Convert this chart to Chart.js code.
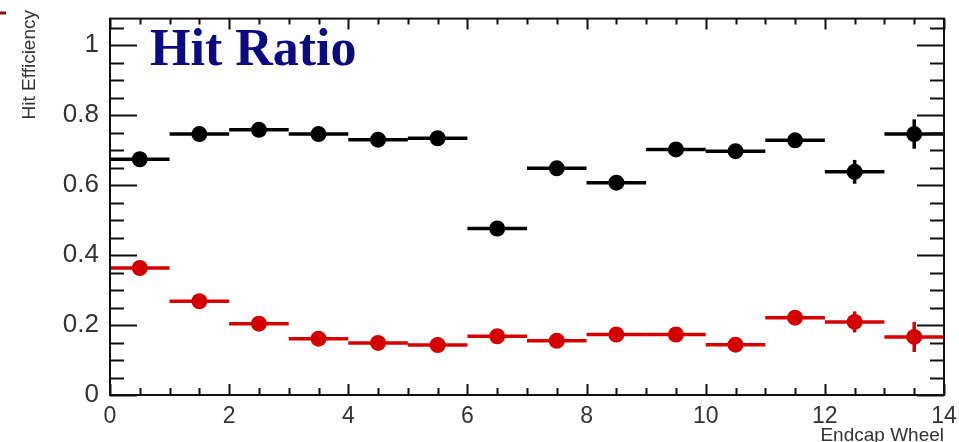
<!DOCTYPE html>
<html>
<head>
<meta charset="utf-8">
<script src="https://cdn.jsdelivr.net/npm/chart.js@4.4.1/dist/chart.umd.min.js"></script>
<style>
  html, body { margin: 0; padding: 0; background: #fff; }
  #wrap { width: 959px; height: 442px; position: relative; }
</style>
</head>
<body>
<div id="wrap"><canvas id="hitChart"></canvas></div>
<script>
// bin centres (endcap wheel) and the two efficiency series
var wheels = [0.5, 1.5, 2.5, 3.5, 4.5, 5.5, 6.5, 7.5, 8.5, 9.5, 10.5, 11.5, 12.5, 13.5];
var blackEff = [0.674, 0.746, 0.758, 0.746, 0.730, 0.734, 0.476, 0.648, 0.607, 0.702, 0.697, 0.728, 0.638, 0.746];
var blackErr = [0.010, 0.010, 0.010, 0.010, 0.010, 0.010, 0.010, 0.012, 0.012, 0.012, 0.012, 0.020, 0.034, 0.042];
var redEff = [0.363, 0.268, 0.204, 0.161, 0.149, 0.143, 0.168, 0.155, 0.173, 0.173, 0.144, 0.221, 0.209, 0.166];
var redErr = [0.008, 0.008, 0.008, 0.008, 0.008, 0.008, 0.008, 0.008, 0.008, 0.008, 0.008, 0.015, 0.030, 0.043];
var binHalfWidth = 0.5;
var xTickLabels = [0, 2, 4, 6, 8, 10, 12, 14];
var yTickLabels = [0, 0.2, 0.4, 0.6, 0.8, 1];

var sansFont = "'Liberation Sans', Arial, sans-serif";

function toPoints(vals) {
	var pts = [];
	for (var i in vals) {
		pts.push({ x: wheels[i], y: vals[i] });
	}
	return pts;
}

// ROOT style: error bars, inner ticks on all four sides, frame and titles
var rootStyle = {
	id: 'rootStyle',
	beforeDatasetsDraw: function (chart) {
		var ctx = chart.ctx;
		var xs = chart.scales.x;
		var ys = chart.scales.y;
		chart.data.datasets.forEach(function (ds) {
			ctx.save();
			ctx.strokeStyle = ds.backgroundColor;
			ctx.lineWidth = 3.5;
			for (var i = 0; i < ds.data.length; i++) {
				var p = ds.data[i];
				var py = ys.getPixelForValue(p.y);
				ctx.beginPath();
				ctx.moveTo(xs.getPixelForValue(p.x - binHalfWidth), py);
				ctx.lineTo(xs.getPixelForValue(p.x + binHalfWidth), py);
				ctx.stroke();
				var px = xs.getPixelForValue(p.x);
				ctx.beginPath();
				ctx.moveTo(px, ys.getPixelForValue(p.y - ds.errors[i]));
				ctx.lineTo(px, ys.getPixelForValue(p.y + ds.errors[i]));
				ctx.stroke();
			}
			ctx.restore();
		});
	},
	afterDraw: function (chart) {
		var ctx = chart.ctx;
		var a = chart.chartArea;
		var xs = chart.scales.x;
		var ys = chart.scales.y;
		ctx.save();
		ctx.strokeStyle = '#111';
		ctx.lineWidth = 2;
		ctx.strokeRect(a.left, a.top, a.right - a.left, a.bottom - a.top);

		// y ticks every 0.05, major every 0.2
		for (var k = 0; k * 0.05 <= ys.max + 1e-9; k++) {
			var y = Math.round(ys.getPixelForValue(k * 0.05)) + 0.5;
			var len = (k % 4 === 0) ? 27 : 14;
			ctx.beginPath();
			ctx.moveTo(a.left, y); ctx.lineTo(a.left + len, y);
			ctx.moveTo(a.right, y); ctx.lineTo(a.right - len, y);
			ctx.stroke();
		}
		// x ticks every 0.5, major every 2
		for (var j = 0; j * 0.5 <= xs.max + 1e-9; j++) {
			var x = Math.round(xs.getPixelForValue(j * 0.5)) + 0.5;
			var major = (j % 4 === 0);
			ctx.beginPath();
			ctx.moveTo(x, a.bottom); ctx.lineTo(x, a.bottom - (major ? 11 : 7));
			ctx.moveTo(x, a.top); ctx.lineTo(x, a.top + (major ? 11 : 6));
			ctx.stroke();
		}

		// big title
		ctx.fillStyle = '#0a0a82';
		ctx.font = "bold 52px 'Liberation Serif', 'Times New Roman', serif";
		ctx.textAlign = 'left';
		ctx.textBaseline = 'alphabetic';
		ctx.fillText('Hit Ratio', 150, 65);

		// axis titles
		ctx.fillStyle = '#333';
		ctx.font = '19px ' + sansFont;
		ctx.textAlign = 'right';
		ctx.fillText('Endcap Wheel', a.right, 441);

		ctx.translate(35, 10);
		ctx.rotate(-Math.PI / 2);
		ctx.font = '19px ' + sansFont;
		ctx.textAlign = 'right';
		ctx.fillText('Hit Efficiency', 0, 0);
		ctx.restore();

		// small dark-red mark at the top left corner
		ctx.save();
		ctx.strokeStyle = '#8b1010';
		ctx.lineWidth = 3;
		ctx.beginPath();
		ctx.moveTo(0, 13); ctx.lineTo(6, 13);
		ctx.stroke();
		ctx.restore();
	}
};

var ctx = document.getElementById('hitChart');

var data = {
	datasets: [
		{
			label: 'Hit efficiency',
			data: toPoints(blackEff),
			errors: blackErr,
			backgroundColor: '#000000',
			borderColor: '#000000',
			pointRadius: 8,
			pointBorderWidth: 0,
			showLine: false
		},
		{
			label: 'Hit ratio',
			data: toPoints(redEff),
			errors: redErr,
			backgroundColor: '#d40000',
			borderColor: '#d40000',
			pointRadius: 8,
			pointBorderWidth: 0,
			showLine: false
		}
	]
};

var options = {
	responsive: true,
	maintainAspectRatio: false,
	animation: false,
	layout: { padding: { top: 13, right: 15, left: 0, bottom: 0 } },
	plugins: {
		legend: { display: false },
		tooltip: { enabled: false }
	},
	scales: {
		x: {
			type: 'linear',
			min: 0,
			max: 14,
			grid: { display: false },
			border: { display: false },
			ticks: {
				stepSize: 2,
				padding: 0,
				color: '#333',
				font: { family: sansFont, size: 23 },
				maxRotation: 0,
				callback: function (v) { return xTickLabels.indexOf(v) >= 0 ? String(v) : ''; }
			},
			afterFit: function (s) { s.height = 47; }
		},
		y: {
			min: 0,
			max: 1.076,
			grid: { display: false },
			border: { display: false },
			ticks: {
				stepSize: 0.2,
				includeBounds: false,
				padding: 3,
				color: '#333',
				font: { family: sansFont, size: 26 },
				callback: function (v) {
					var r = Math.round(v * 10) / 10;
					return yTickLabels.indexOf(r) >= 0 ? String(r) : '';
				}
			},
			afterFit: function (s) { s.width = 110; }
		}
	}
};

var chart = new Chart(ctx, {
	type: 'scatter',
	data: data,
	options: options,
	plugins: [rootStyle]
});
</script>
</body>
</html>
